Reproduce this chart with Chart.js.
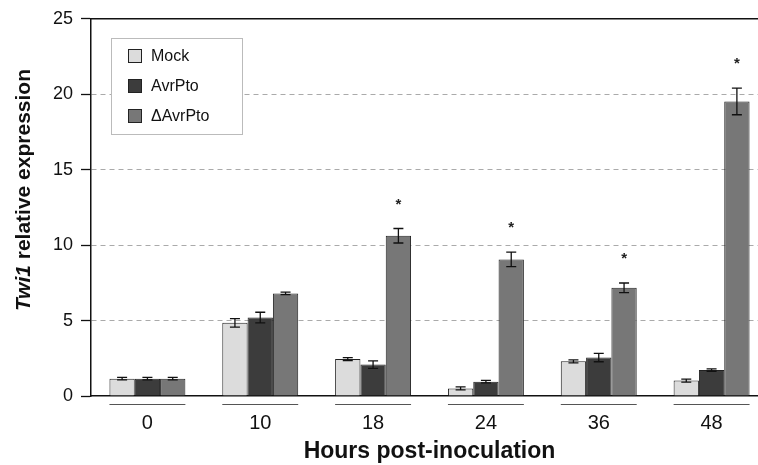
<!DOCTYPE html>
<html>
<head>
<meta charset="utf-8">
<script src="https://cdn.jsdelivr.net/npm/chart.js@4/dist/chart.umd.min.js"></script>
<style>
  html, body { margin: 0; padding: 0; background: #fff; overflow: hidden; }
  canvas { display: block; }
</style>
</head>
<body>
<canvas id="twi1Chart" width="780" height="465"></canvas>
<script>
const hours = ['0', '10', '18', '24', '36', '48'];

const mock = [1.15, 4.85, 2.45, 0.5, 2.3, 1.02];
const avrPto = [1.15, 5.2, 2.08, 0.95, 2.55, 1.72];
const deltaAvrPto = [1.15, 6.8, 10.62, 9.05, 7.17, 19.52];

const mockErr = [0.08, 0.28, 0.1, 0.1, 0.1, 0.1];
const avrPtoErr = [0.08, 0.35, 0.25, 0.08, 0.28, 0.08];
const deltaAvrPtoErr = [0.08, 0.08, 0.48, 0.48, 0.32, 0.88];

// asterisk above the ΔAvrPto bar
const significant = [false, false, true, true, true, true];

const yTicks = [0, 5, 10, 15, 20, 25];

const FONT = '"Liberation Sans", Arial, Helvetica, sans-serif';

const errorBars = {
    id: 'errorBars',
    afterDatasetsDraw(chart) {
        const ctx = chart.ctx;
        const y = chart.scales.y;
        ctx.save();
        ctx.strokeStyle = '#111';
        ctx.lineWidth = 1.3;
        chart.data.datasets.forEach((ds, di) => {
            const meta = chart.getDatasetMeta(di);
            meta.data.forEach((bar, i) => {
                const v = ds.data[i], e = ds.errors[i];
                const top = y.getPixelForValue(v + e);
                const bot = y.getPixelForValue(v - e);
                ctx.beginPath();
                ctx.moveTo(bar.x, top); ctx.lineTo(bar.x, bot);
                ctx.moveTo(bar.x - 5, top); ctx.lineTo(bar.x + 5, top);
                ctx.moveTo(bar.x - 5, bot); ctx.lineTo(bar.x + 5, bot);
                ctx.stroke();
            });
        });
        // significance marks
        const dMeta = chart.getDatasetMeta(2);
        ctx.fillStyle = '#222';
        ctx.font = 'bold 15px ' + FONT;
        ctx.textAlign = 'center';
        ctx.textBaseline = 'middle';
        significant.forEach((s, i) => {
            if (!s) return;
            const bar = dMeta.data[i];
            const top = y.getPixelForValue(deltaAvrPto[i] + deltaAvrPtoErr[i]);
            ctx.fillText('*', bar.x, top - 24);
        });
        ctx.restore();
    },
    afterDraw(chart) {
        const ctx = chart.ctx;
        const area = chart.chartArea;
        ctx.save();

        // frame line along the top
        ctx.strokeStyle = '#111';
        ctx.lineWidth = 1.5;
        ctx.beginPath();
        ctx.moveTo(area.left, area.top);
        ctx.lineTo(area.right + 20, area.top);
        ctx.stroke();

        // rule under each time group
        ctx.strokeStyle = '#555';
        ctx.lineWidth = 1;
        const metas = [0, 1, 2].map(i => chart.getDatasetMeta(i));
        hours.forEach((h, i) => {
            const l = metas[0].data[i].x - metas[0].data[i].width / 2;
            const r = metas[2].data[i].x + metas[2].data[i].width / 2;
            ctx.beginPath();
            ctx.moveTo(l, area.bottom + 8.5);
            ctx.lineTo(r, area.bottom + 8.5);
            ctx.stroke();
        });

        // legend box
        const lx = 111, ly = 38, lw = 131, lh = 96;
        ctx.fillStyle = '#fff';
        ctx.fillRect(lx, ly, lw, lh);
        ctx.strokeStyle = '#bbb';
        ctx.strokeRect(lx + 0.5, ly + 0.5, lw, lh);
        ctx.font = '16px ' + FONT;
        ctx.textAlign = 'left';
        ctx.textBaseline = 'middle';
        chart.data.datasets.forEach((ds, i) => {
            const sy = ly + 11 + i * 30;
            ctx.fillStyle = ds.backgroundColor;
            ctx.fillRect(lx + 17, sy, 14, 14);
            ctx.strokeStyle = '#222';
            ctx.strokeRect(lx + 17.5, sy + 0.5, 13, 13);
            ctx.fillStyle = '#111';
            ctx.fillText(ds.label, lx + 40, sy + 7.5);
        });

        // y axis title with italic gene name
        ctx.translate(24, 190);
        ctx.rotate(-Math.PI / 2);
        const part1 = 'Twi1', part2 = ' relative expression';
        const f1 = 'italic bold 21px ' + FONT, f2 = 'bold 21px ' + FONT;
        ctx.font = f1; const w1 = ctx.measureText(part1).width;
        ctx.font = f2; const w2 = ctx.measureText(part2).width;
        const start = -(w1 + w2) / 2;
        ctx.fillStyle = '#111';
        ctx.font = f1; ctx.fillText(part1, start, 0);
        ctx.font = f2; ctx.fillText(part2, start + w1, 0);
        ctx.restore();
    }
};

new Chart(document.getElementById('twi1Chart'), {
    type: 'bar',
    data: {
        labels: hours,
        datasets: [
            { label: 'Mock', data: mock, errors: mockErr, backgroundColor: '#dcdcdc' },
            { label: 'AvrPto', data: avrPto, errors: avrPtoErr, backgroundColor: '#3c3c3c' },
            { label: '\u0394AvrPto', data: deltaAvrPto, errors: deltaAvrPtoErr, backgroundColor: '#777777' }
        ]
    },
    options: {
        responsive: false,
        animation: false,
        layout: { padding: { top: 16, right: 12, left: 0, bottom: 0 } },
        datasets: {
            bar: {
                borderColor: '#222',
                borderWidth: 1,
                categoryPercentage: 0.673,
                barPercentage: 1.0
            }
        },
        plugins: {
            legend: { display: false },
            tooltip: { enabled: false }
        },
        scales: {
            x: {
                grid: { display: false },
                border: { color: '#111', width: 1.5 },
                ticks: { color: '#111', font: { family: FONT, size: 20 }, padding: 7 },
                title: {
                    display: true,
                    text: 'Hours post-inoculation',
                    color: '#111',
                    font: { family: FONT, size: 23, weight: 'bold' },
                    padding: { top: 0, bottom: 0 }
                },
                afterFit(scale) { scale.height = 69; }
            },
            y: {
                min: 0,
                max: 25,
                afterBuildTicks(scale) { scale.ticks = yTicks.map(v => ({ value: v })); },
                grid: {
                    color: ctx => (ctx.tick && (ctx.tick.value === 0 || ctx.tick.value === 25)) ? 'rgba(0,0,0,0)' : '#aaaaaa',
                    tickColor: '#111',
                    tickLength: 10,
                    tickWidth: 1.3,
                    tickBorderDash: []
                },
                border: { color: '#111', width: 1.5, dash: [5, 4] },
                ticks: { color: '#111', font: { family: FONT, size: 18 }, padding: 8 },
                afterFit(scale) { scale.width = 91; }
            }
        }
    },
    plugins: [errorBars]
});
</script>
</body>
</html>
